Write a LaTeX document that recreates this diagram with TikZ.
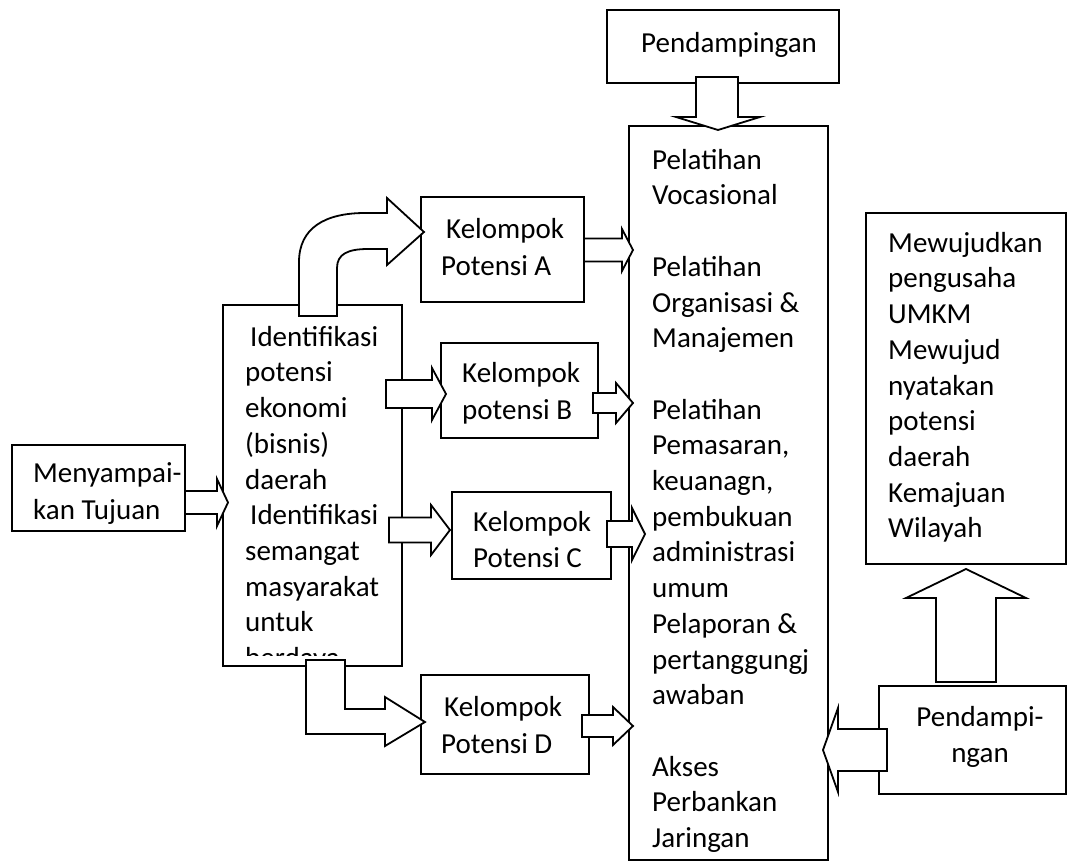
\documentclass[tikz,border=0pt]{standalone}
\usepackage{fontspec}
\setmainfont{Carlito}
% horizontal block arrow: start x, head-base x, tip x, centre y, shaft half-width, head half-width
\newcommand{\blockarrowh}[6]{%
  \draw[blk] (#1,#4-#5) -- (#2,#4-#5) -- (#2,#4-#6) -- (#3,#4) -- (#2,#4+#6)
    -- (#2,#4+#5) -- (#1,#4+#5) -- cycle;}
% fixes the height of a first text line, so a node's top lies 25pt above its first baseline
\newcommand{\firstline}{\rule{0pt}{25pt}}
\begin{document}
\begin{tikzpicture}[x=1pt,y=-1pt,
  box/.style={draw,line width=1.8pt,fill=white,inner sep=0pt},
  blk/.style={draw,line width=1.8pt,fill=white,line join=miter},
  txt/.style={inner sep=0pt,anchor=north west,align=left,
    font=\fontsize{29}{35.7}\selectfont},
  ctxt/.style={inner sep=0pt,anchor=north,align=center,
    font=\fontsize{29}{36}\selectfont}]
\useasboundingbox (0,0) rectangle (1069,861);

% boxes
\node[box,minimum width=232pt,minimum height=73pt]  (pendtop) at (723,46.5) {};
\node[box,minimum width=199pt,minimum height=734pt] (train)   at (728.5,493) {};
\node[box,minimum width=173pt,minimum height=86pt]  (goal)    at (98.5,488) {};
\node[box,minimum width=179pt,minimum height=361pt] (ident)   at (312.5,485.5) {};
\node[box,minimum width=163pt,minimum height=105pt] (grpA)    at (502.5,249.5) {};
\node[box,minimum width=157pt,minimum height=95pt]  (grpB)    at (519.5,390.5) {};
\node[box,minimum width=159pt,minimum height=87pt]  (grpC)    at (531.5,535.5) {};
\node[box,minimum width=168pt,minimum height=99pt]  (grpD)    at (505,724.5) {};
\node[box,minimum width=200pt,minimum height=351pt] (result)  at (966,388.5) {};
\node[box,minimum width=187pt,minimum height=108pt] (pendbot) at (972.5,740) {};

% block arrows
\blockarrowh{185}{217}{228}{502.5}{11.5}{23.5}
\blockarrowh{584}{622}{633}{250}{11.5}{21}
\blockarrowh{386}{432}{446}{394}{14}{26}
\blockarrowh{593}{616}{633}{403}{10}{20}
\blockarrowh{389}{431}{450}{530}{12.5}{25}
\blockarrowh{607}{632}{645}{534}{13}{26}
\blockarrowh{582}{613}{633}{726}{11}{19}
\blockarrowh{887}{838}{823}{750}{21}{42}

% curved arrow up and over to group A
\draw[blk] (299,316) -- (299,262) .. controls (299,228) and (325,213) .. (365,213)
  -- (387,213) -- (387,198) -- (424,232) -- (387,265) -- (387,249) -- (368,249)
  .. controls (348,249) and (337,254) .. (337,268) -- (337,316) -- cycle;
% bent arrow down and across to group D
\draw[blk] (306,660) -- (306,734) -- (385,734) -- (385,746) -- (425,722)
  -- (385,697) -- (385,709) -- (345,709) -- (345,660) -- cycle;
% down arrow into the training column
\draw[blk] (696,77) -- (738,77) -- (738,117) -- (760,117) -- (718,130)
  -- (676,117) -- (696,117) -- cycle;
% up arrow into the results box
\draw[blk] (936,682) -- (936,598) -- (906,598) -- (966,569) -- (1026,598)
  -- (996,598) -- (996,682) -- cycle;

% texts (node top = first baseline - 25)
\node[txt] (tpendtop) at (641,27) {\firstline Pendampingan};
\node[txt] (ttrain) at (652,144) {\firstline Pelatihan\\Vocasional\\~\\Pelatihan\\Organisasi \&\\Manajemen\\~\\%
  Pelatihan\\Pemasaran,\\keuanagn,\\pembukuan\\administrasi\\umum\\Pelaporan \&\\pertanggungj\\awaban\\~\\%
  Akses\\Perbankan\\Jaringan};
\node[txt,font=\fontsize{29}{37}\selectfont] (tgoal) at (33,457) {\firstline Menyampai-\\kan Tujuan};
\begin{scope}
  \clip (224,306) rectangle (401,655);
  \node[txt] (tident) at (245,321) {\firstline\hspace*{5pt}Identifikasi\\potensi\\ekonomi\\(bisnis)\\daerah\\%
    \hspace*{5pt}Identifikasi\\semangat\\masyarakat\\untuk\\berdaya};
\end{scope}
\node[txt,font=\fontsize{29}{37}\selectfont] (tgrpA) at (441,213) {\firstline\hspace*{5pt}Kelompok\\Potensi A};
\node[txt,font=\fontsize{29}{37}\selectfont] (tgrpB) at (462,357) {\firstline Kelompok\\potensi B};
\node[txt,font=\fontsize{29}{36}\selectfont] (tgrpC) at (473,506) {\firstline Kelompok\\Potensi C};
\node[txt,font=\fontsize{29}{37}\selectfont] (tgrpD) at (441,691) {\firstline\hspace*{3pt}Kelompok\\Potensi D};
\node[txt] (tresult) at (888,227) {\firstline Mewujudkan\\pengusaha\\UMKM\\Mewujud\\nyatakan\\potensi\\daerah\\Kemajuan\\Wilayah};
\node[ctxt] (tpendbot) at (980,701) {\firstline Pendampi-\\ngan};
\end{tikzpicture}
\end{document}
